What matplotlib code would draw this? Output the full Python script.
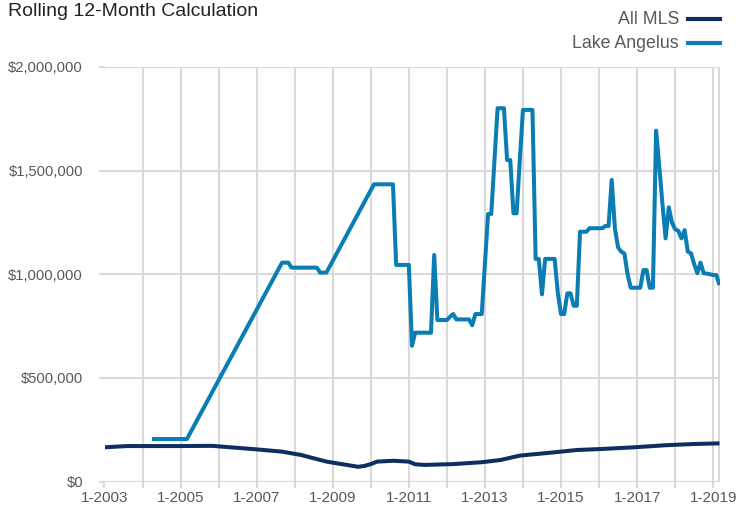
import matplotlib
matplotlib.use("Agg")
import matplotlib.pyplot as plt
from matplotlib.lines import Line2D
from matplotlib.ticker import FuncFormatter, MultipleLocator
import numpy as np

plt.rcParams['font.family'] = ['Liberation Sans', 'DejaVu Sans']

title = "Rolling 12-Month Calculation"
series_names = ["All MLS", "Lake Angelus"]
colors = ["#0c2f5f", "#0a7db4"]

# All MLS (month, value)
mls_dates = ["2003-01", "2003-08", "2004-12", "2005-11", "2007-01", "2007-09", "2008-03",
             "2008-11", "2009-09", "2009-11", "2010-01", "2010-03", "2010-08", "2011-01",
             "2011-03", "2011-06", "2012-03", "2012-12", "2013-06", "2013-12", "2014-11",
             "2015-06", "2016-02", "2016-12", "2017-10", "2018-07", "2019-03"]
mls_values = [165000, 171000, 171000, 172000, 155000, 144000, 128000,
              96000, 71000, 75000, 84000, 96000, 100000, 96000,
              83000, 80000, 84000, 93000, 104000, 125000, 141000,
              152000, 157000, 165000, 175000, 181000, 184000]

# Lake Angelus (month, value)
la_dates = ["2004-04", "2004-05", "2004-06", "2004-07", "2004-08", "2004-09", "2004-10",
            "2004-11", "2004-12", "2005-01", "2005-02", "2005-03",
            "2007-09", "2007-10", "2007-11", "2007-12", "2008-01", "2008-02", "2008-03",
            "2008-04", "2008-05", "2008-06", "2008-07", "2008-08", "2008-09", "2008-10",
            "2008-11",
            "2010-02", "2010-03", "2010-04", "2010-05", "2010-06", "2010-07", "2010-08",
            "2010-09", "2010-10", "2010-11", "2010-12",
            "2011-01", "2011-02", "2011-03", "2011-04", "2011-05", "2011-06", "2011-07",
            "2011-08", "2011-09", "2011-10", "2011-11", "2011-12",
            "2012-01", "2012-02", "2012-03", "2012-04", "2012-05", "2012-06", "2012-07",
            "2012-08", "2012-09", "2012-10", "2012-11", "2012-12",
            "2013-01", "2013-02", "2013-03", "2013-04", "2013-05", "2013-06", "2013-07",
            "2013-08", "2013-09", "2013-10", "2013-11", "2013-12",
            "2014-01", "2014-02", "2014-03", "2014-04", "2014-05", "2014-06", "2014-07",
            "2014-08", "2014-09", "2014-10", "2014-11", "2014-12",
            "2015-01", "2015-02", "2015-03", "2015-04", "2015-05", "2015-06", "2015-07",
            "2015-08", "2015-09", "2015-10", "2015-11", "2015-12",
            "2016-01", "2016-02", "2016-03", "2016-04", "2016-05", "2016-06", "2016-07",
            "2016-08", "2016-09", "2016-10", "2016-11", "2016-12",
            "2017-01", "2017-02", "2017-03", "2017-04", "2017-05", "2017-06", "2017-07",
            "2017-08", "2017-09", "2017-10", "2017-11", "2017-12",
            "2018-01", "2018-02", "2018-03", "2018-04", "2018-05", "2018-06", "2018-07",
            "2018-08", "2018-09", "2018-10", "2018-11", "2018-12",
            "2019-01", "2019-02", "2019-03"]
la_values = [205000, 205000, 205000, 205000, 205000, 205000, 205000,
             205000, 205000, 205000, 205000, 205000,
             1056000, 1056000, 1056000, 1032000, 1032000, 1032000, 1032000,
             1032000, 1032000, 1032000, 1032000, 1032000, 1008000, 1008000,
             1008000,
             1434000, 1434000, 1434000, 1434000, 1434000, 1434000, 1434000,
             1045000, 1045000, 1045000, 1045000,
             1045000, 655000, 718000, 718000, 718000, 718000, 718000,
             718000, 1093000, 779000, 779000, 779000,
             779000, 795000, 808000, 782000, 782000, 782000, 782000,
             782000, 754000, 808000, 808000, 808000,
             1050000, 1291000, 1291000, 1550000, 1801000, 1801000, 1801000,
             1551000, 1551000, 1294000, 1294000, 1550000,
             1793000, 1793000, 1793000, 1793000, 1074000, 1074000, 903000,
             1074000, 1074000, 1074000, 1074000, 910000,
             808000, 808000, 908000, 908000, 848000, 848000, 1205000,
             1205000, 1205000, 1222000, 1222000, 1222000,
             1222000, 1222000, 1233000, 1233000, 1455000, 1222000, 1130000,
             1109000, 1100000, 1000000, 935000, 935000,
             935000, 935000, 1020000, 1020000, 935000, 935000, 1693000,
             1520000, 1340000, 1173000, 1323000, 1250000,
             1217000, 1210000, 1173000, 1213000, 1109000, 1101000, 1050000,
             1005000, 1056000, 1005000, 1003000, 1000000,
             996000, 996000, 948000]

x_tick_labels = ["1-2003", "1-2005", "1-2007", "1-2009", "1-2011", "1-2013",
                 "1-2015", "1-2017", "1-2019"]


def to_num(s):
    y, m = s.split("-")
    return int(y) + (int(m) - 1) / 12.0


mls_x = np.array([to_num(d) for d in mls_dates])
la_x = np.array([to_num(d) for d in la_dates])

fig = plt.figure(figsize=(7.38, 5.15), dpi=100)
ax = fig.add_axes([104.5 / 738, 1 - 481.5 / 515, (719.5 - 104.5) / 738, (481.5 - 67) / 515])

grid_c = "#d9d9d9"
ax.plot(mls_x, mls_values, color=colors[0], lw=2.9, solid_capstyle="butt", zorder=3)
ax.plot(la_x, la_values, color=colors[1], lw=2.9, solid_capstyle="butt", zorder=4)

ax.set_xlim(to_num("2003-01"), to_num("2019-03"))
ax.set_ylim(0, 2000000)

tick_pos = [to_num(l.split("-")[1] + "-01") for l in x_tick_labels]
ax.set_xticks(tick_pos)
ax.set_xticklabels(x_tick_labels)
ax.xaxis.set_minor_locator(MultipleLocator(1))
ax.yaxis.set_major_locator(MultipleLocator(500000))
ax.yaxis.set_major_formatter(FuncFormatter(lambda v, p: "${:,.0f}".format(v)))

ax.grid(True, which="both", axis="x", color=grid_c, lw=1.5, zorder=0)
ax.grid(True, which="major", axis="y", color=grid_c, lw=1.5, zorder=0)
for s in ax.spines.values():
    s.set_visible(False)
ax.axvline(to_num("2019-03"), color=grid_c, lw=1.5, zorder=0)
ax.tick_params(axis="both", which="both", length=4.5, width=1.5, color=grid_c,
               labelcolor="#595959")
ax.tick_params(axis="x", pad=2.5, labelsize=11)
ax.tick_params(axis="y", pad=11, labelsize=10.6)

fig.text(8 / 738, 1 - 12 / 515, title, fontsize=14, color="#222222", va="center", ha="left")

# legend
leg_y = [19, 43]
for name, col, yy in zip(series_names, colors, leg_y):
    fig.text(679 / 738, 1 - yy / 515, name, fontsize=12.8, color="#595959", ha="right", va="center")
    fig.add_artist(Line2D([688 / 738, 720 / 738], [1 - yy / 515, 1 - yy / 515], color=col, lw=3,
                          transform=fig.transFigure))

fig.savefig("out.png", dpi=100)
